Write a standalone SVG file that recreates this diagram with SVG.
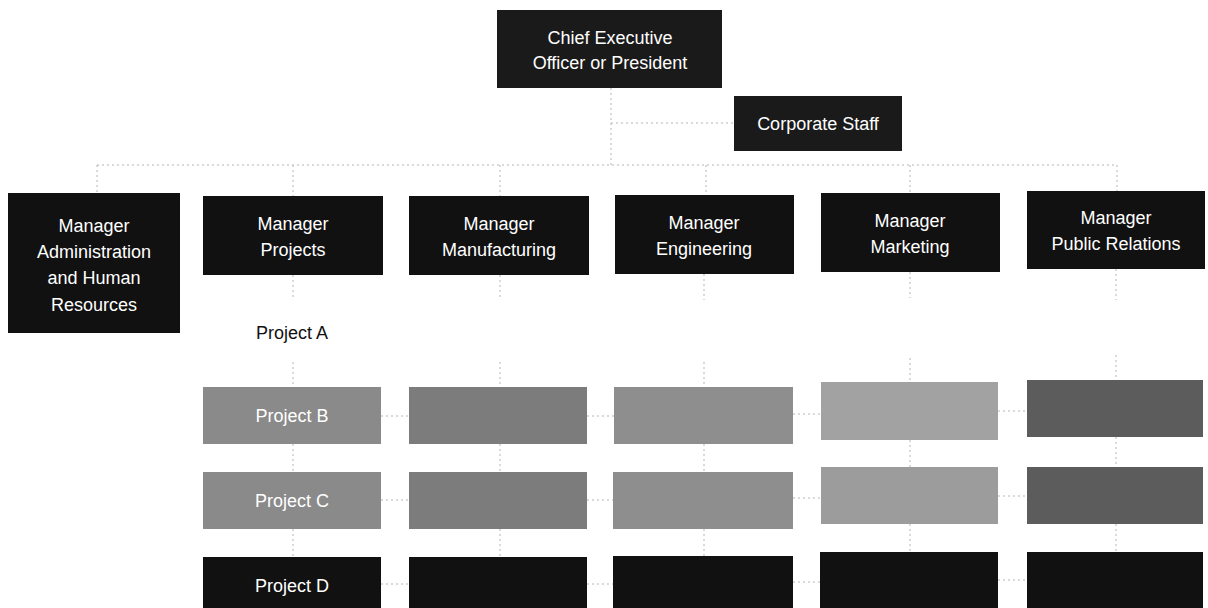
<svg xmlns="http://www.w3.org/2000/svg" width="1208" height="608" viewBox="0 0 1208 608">
<style>
.c{fill:none;stroke:#b4b4b4;stroke-width:1;stroke-dasharray:2 3}
.dk{fill:#111}
.t{font-family:"Liberation Sans",Arial,sans-serif;font-size:18px;text-anchor:middle;fill:#fff}
.tb{font-family:"Liberation Sans",Arial,sans-serif;font-size:18px;text-anchor:middle;fill:#111}
</style>
<rect width="1208" height="608" fill="#fff"/>
<g id="connectors">
<path class="c" d="M611 88V165M611 123H734M97 165H1117M97 165V193M293 165V196M500 165V196M706 165V195M910 165V193M1117 165V191"/>
<path class="c" d="M293 275V300M293 362V387M500 275V300M500 362V387M704 274V300M704 362V387M910 272V298M910 358V382M1116 269V300M1116 355V380"/>
<path class="c" d="M293 444V472M293 529V557M500 444V472M500 529V557M704 444V472M704 529V556M910 440V467M910 524V552M1116 437V467M1116 524V552"/>
<path class="c" d="M381 416H409M587 416H614M793 414H821M998 411H1027M381 500H409M587 500H613M793 498H821M998 496H1027M381 584H409M587 584H613M793 582H820M998 580H1027"/>
</g>
<g id="ceo"><rect x="497" y="10" width="225" height="78" fill="#1a1a1a"/><text class="t" x="610" y="44">Chief Executive</text><text class="t" x="610" y="69">Officer or President</text></g>
<g id="corporate-staff"><rect x="734" y="96" width="168" height="55" fill="#1a1a1a"/><text class="t" x="818" y="130">Corporate Staff</text></g>
<g id="mgr-admin"><rect class="dk" x="8" y="193" width="172" height="140"/><text class="t" x="94" y="232">Manager</text><text class="t" x="94" y="258">Administration</text><text class="t" x="94" y="284">and Human</text><text class="t" x="94" y="311">Resources</text></g>
<g id="mgr-projects"><rect class="dk" x="203" y="196" width="180" height="79"/><text class="t" x="293" y="230">Manager</text><text class="t" x="293" y="256">Projects</text></g>
<g id="mgr-manufacturing"><rect class="dk" x="409" y="196" width="180" height="79"/><text class="t" x="499" y="230">Manager</text><text class="t" x="499" y="256">Manufacturing</text></g>
<g id="mgr-engineering"><rect class="dk" x="615" y="195" width="179" height="79"/><text class="t" x="704" y="229">Manager</text><text class="t" x="704" y="255">Engineering</text></g>
<g id="mgr-marketing"><rect class="dk" x="821" y="193" width="179" height="79"/><text class="t" x="910" y="227">Manager</text><text class="t" x="910" y="253">Marketing</text></g>
<g id="mgr-pr"><rect class="dk" x="1027" y="191" width="178" height="78"/><text class="t" x="1116" y="224">Manager</text><text class="t" x="1116" y="250">Public Relations</text></g>
<g id="project-a"><text class="tb" x="292" y="339">Project A</text></g>
<g id="project-b"><rect x="203" y="387" width="178" height="57" fill="#8a8a8a"/><text class="t" x="292" y="422">Project B</text></g>
<g id="b-mfg"><rect x="409" y="387" width="178" height="57" fill="#7c7c7c"/></g>
<g id="b-eng"><rect x="614" y="387" width="179" height="57" fill="#8e8e8e"/></g>
<g id="b-mkt"><rect x="821" y="382" width="177" height="58" fill="#a2a2a2"/></g>
<g id="b-pr"><rect x="1027" y="380" width="176" height="57" fill="#5c5c5c"/></g>
<g id="project-c"><rect x="203" y="472" width="178" height="57" fill="#8a8a8a"/><text class="t" x="292" y="507">Project C</text></g>
<g id="c-mfg"><rect x="409" y="472" width="178" height="57" fill="#7c7c7c"/></g>
<g id="c-eng"><rect x="613" y="472" width="180" height="57" fill="#8e8e8e"/></g>
<g id="c-mkt"><rect x="821" y="467" width="177" height="57" fill="#9c9c9c"/></g>
<g id="c-pr"><rect x="1027" y="467" width="176" height="57" fill="#5c5c5c"/></g>
<g id="project-d"><rect class="dk" x="203" y="557" width="178" height="51"/><text class="t" x="292" y="592">Project D</text></g>
<g id="d-mfg"><rect class="dk" x="409" y="557" width="178" height="51"/></g>
<g id="d-eng"><rect class="dk" x="613" y="556" width="180" height="52"/></g>
<g id="d-mkt"><rect class="dk" x="820" y="552" width="178" height="56"/></g>
<g id="d-pr"><rect class="dk" x="1027" y="552" width="176" height="56"/></g>
</svg>
